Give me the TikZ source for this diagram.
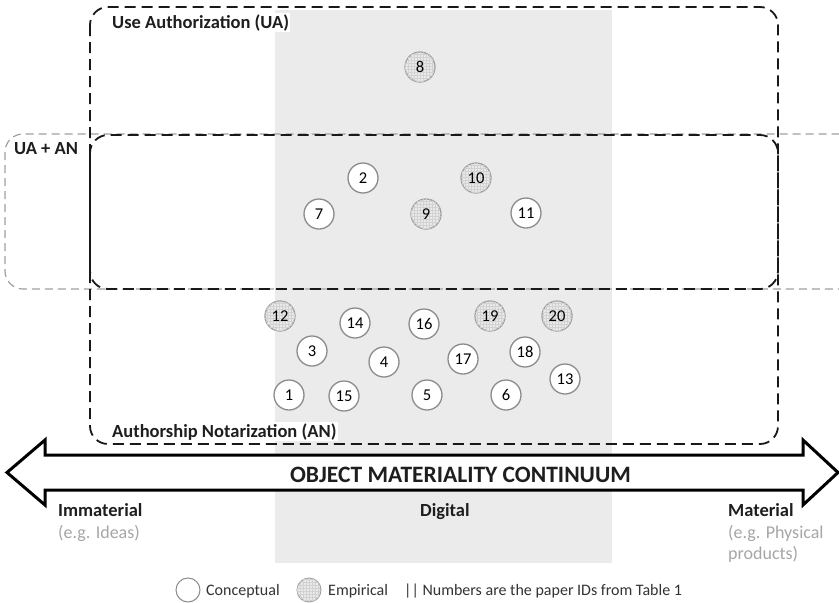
\documentclass[tikz,border=0pt]{standalone}
\usepackage{fontspec}
\setmainfont{Carlito}
\usetikzlibrary{patterns}
\definecolor{colgray}{HTML}{EBEBEB}
\definecolor{dashgray}{HTML}{A0A0A0}
\definecolor{circgray}{HTML}{8C8C8C}
\definecolor{empfill}{HTML}{E9E9E9}
\definecolor{empgrid}{HTML}{D2D2D2}
\definecolor{subgray}{HTML}{A6A6A6}
\definecolor{txtcol}{HTML}{1E1E1E}
\tikzset{
  conc/.style={circle, draw=circgray, line width=1.3pt, fill=white, minimum size=30pt,
    inner sep=0pt, text=black, font=\fontsize{16.5}{16.5}\selectfont},
  emp/.style={conc, draw=dashgray, fill=empfill, postaction={pattern=grid, pattern color=empgrid}},
  blackbox/.style={draw=black!90, line width=1.8pt, dash pattern=on 11pt off 6pt, rounded corners=18pt},
  graybox/.style={draw=dashgray, line width=1.2pt, dash pattern=on 8pt off 5pt, rounded corners=18pt},
  lbl/.style={font=\bfseries\fontsize{18.5}{20}\selectfont, text=txtcol, inner sep=1.5pt},
  sublbl/.style={font=\fontsize{18}{21}\selectfont, text=subgray, inner sep=0pt, align=left},
  leg/.style={font=\fontsize{16}{18}\selectfont, text=black!80, inner sep=0pt},
}
\begin{document}
\begin{tikzpicture}[x=1pt,y=-1pt]
\useasboundingbox (0,0) rectangle (839,603);
\clip (0,0) rectangle (839,603);
\fill[white] (0,0) rectangle (839,603);
% digital column
\fill[colgray] (275,10) rectangle (612,563);
% boxes
\draw[graybox] (5,134) rectangle (860,289);
\draw[blackbox] (90,7) rectangle (778,289);
\draw[blackbox] (90,135) rectangle (778,444);
% box labels
\node[lbl, fill=white, anchor=base west] (ualbl) at (110.5,28) {Use Authorization (UA)};
\node[lbl, anchor=base west] (uaanlbl) at (12.5,154) {UA + AN};
\node[lbl, fill=white, anchor=base west] (anlbl) at (110.5,437) {Authorship Notarization (AN)};
% papers
\node[emp]  (p8)  at (420,67)  {8};
\node[conc] (p2)  at (363,178) {2};
\node[emp]  (p10) at (476,178) {10};
\node[conc] (p7)  at (319,214) {7};
\node[emp]  (p9)  at (426,214) {9};
\node[conc] (p11) at (526,213) {11};
\node[emp]  (p12) at (280,316) {12};
\node[conc] (p14) at (355,323) {14};
\node[conc] (p16) at (424,324) {16};
\node[emp]  (p19) at (490,316) {19};
\node[emp]  (p20) at (557,316) {20};
\node[conc] (p3)  at (312,351) {3};
\node[conc] (p18) at (525,352) {18};
\node[conc] (p4)  at (384,362) {4};
\node[conc] (p17) at (463,359) {17};
\node[conc] (p13) at (565,379) {13};
\node[conc] (p1)  at (289,395) {1};
\node[conc] (p15) at (344,396) {15};
\node[conc] (p5)  at (427,395) {5};
\node[conc] (p6)  at (506,395) {6};
% continuum arrow
\draw[line width=3pt, fill=white, line join=miter]
  (7,472.5) -- (45,440) -- (45,455) -- (803,455) -- (803,440) -- (838,472.5)
  -- (803,505) -- (803,490) -- (45,490) -- (45,505) -- cycle;
\node[font=\bfseries\fontsize{23.5}{24}\selectfont, text=txtcol, inner sep=0pt, anchor=base]
  (cont) at (460.5,482) {OBJECT MATERIALITY CONTINUUM};
% scale labels
\node[lbl, inner sep=0pt, anchor=base west] (immat) at (58,516) {Immaterial};
\node[sublbl, anchor=base west] (immatsub) at (58,538) {(e.g. Ideas)};
\node[lbl, inner sep=0pt, anchor=base west] (digi) at (420,516) {Digital};
\node[lbl, inner sep=0pt, anchor=base west] (mat) at (728,516) {Material};
\node[sublbl, anchor=base west] (matsub) at (728,538) {(e.g. Physical};
\node[sublbl, anchor=base west] (matsub2) at (728,559) {products)};
% legend
\node[conc, minimum size=24pt, line width=1pt] (legc) at (188,590) {};
\node[leg, anchor=base west] (legct) at (206,595) {Conceptual};
\node[emp, minimum size=24pt, line width=1pt] (lege) at (309,590) {};
\node[leg, anchor=base west] (leget) at (328,595) {Empirical};
\node[leg, anchor=base west] (legnote) at (404,595) {||\ Numbers are the paper IDs from Table 1};
\end{tikzpicture}
\end{document}
